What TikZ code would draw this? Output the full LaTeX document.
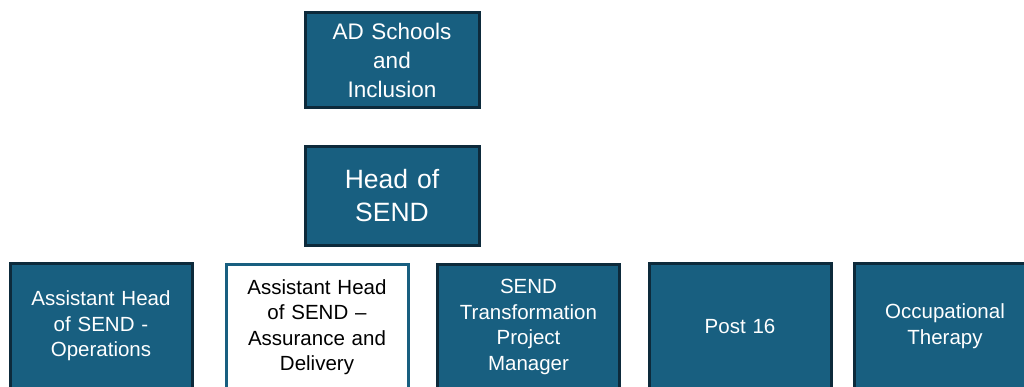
\documentclass[tikz,border=0pt]{standalone}
\usepackage{fontspec}
\setmainfont{Liberation Sans}
\definecolor{boxfill}{HTML}{185F80}
\definecolor{boxedge}{HTML}{0D2A3B}
\begin{document}
\begin{tikzpicture}[x=1pt,y=-1pt,
  box/.style={draw=boxedge,fill=boxfill,line width=3pt,text=white,align=center,inner sep=2pt,
    font=\fontsize{20.5}{25.5}\selectfont},
  wbox/.style={box,draw=boxfill,fill=white,text=black},
  bot/.style={minimum width=181pt,minimum height=125pt,text width=178pt}]
\useasboundingbox (0,0) rectangle (1024,387);
\clip (0,0) rectangle (1024,387);
\node[box,minimum width=173pt,minimum height=95pt,text width=170pt,font=\fontsize{22.5}{29}\selectfont] (ad) at (392,60) {AD Schools\\and\\Inclusion};
\node[box,minimum width=173pt,minimum height=99pt,text width=170pt,font=\fontsize{26.5}{33}\selectfont] (head) at (392,196) {Head of\\SEND};
\node[box,bot] (ops) at (101,326) {Assistant Head\\of SEND -\\Operations};
\node[wbox,bot] (asd) at (317,327) {Assistant Head\\of SEND --\\Assurance and\\Delivery};
\node[box,bot] (tpm) at (528.5,327) {SEND\\Transformation\\Project\\Manager};
\node[box,bot] (p16) at (740,326) {Post 16};
\node[box,bot] (ot) at (945,326) {Occupational\\Therapy};
\end{tikzpicture}
\end{document}
